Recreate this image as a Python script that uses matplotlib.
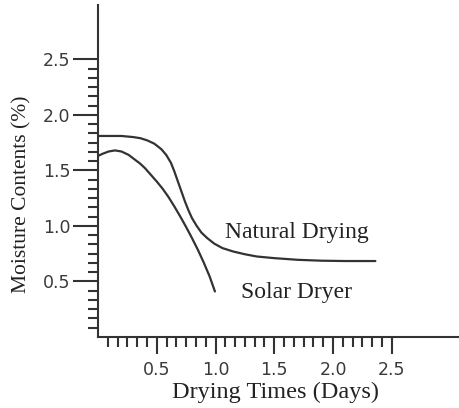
import numpy as np
import matplotlib
matplotlib.use('Agg')
from matplotlib import pyplot as plt
from matplotlib.ticker import FixedLocator

# curvas de umidade lidas em dias x umidade (%)
dias_natural = [0.0, 0.1, 0.2, 0.3, 0.36, 0.42, 0.48, 0.54, 0.58, 0.62, 0.65, 0.68,
                0.71, 0.74, 0.77, 0.80, 0.84, 0.88, 0.93, 0.99, 1.06, 1.15, 1.25,
                1.35, 1.5, 1.7, 1.9, 2.1, 2.36]
umid_natural = [1.81, 1.81, 1.81, 1.80, 1.79, 1.77, 1.74, 1.69, 1.64, 1.57, 1.49, 1.40,
                1.31, 1.22, 1.14, 1.07, 1.00, 0.94, 0.89, 0.84, 0.80, 0.77, 0.745,
                0.725, 0.71, 0.695, 0.687, 0.684, 0.684]

dias_solar = [0.0, 0.04, 0.09, 0.145, 0.2, 0.26, 0.31, 0.36, 0.4, 0.45, 0.5, 0.55,
              0.6, 0.65, 0.7, 0.75, 0.8, 0.85, 0.9, 0.95, 0.995]
umid_solar = [1.63, 1.65, 1.67, 1.68, 1.67, 1.64, 1.60, 1.56, 1.52, 1.46, 1.40, 1.335,
              1.26, 1.175, 1.085, 0.99, 0.89, 0.785, 0.67, 0.545, 0.41]

ticks_x = [0.5, 1.0, 1.5, 2.0, 2.5]
ticks_y = [0.5, 1.0, 1.5, 2.0, 2.5]
rotulo_x = 'Drying Times (Days)'
rotulo_y = 'Moisture Contents (%)'

cor_linha = '#333333'
cor_texto = '#3a3a3a'
serif = ['Liberation Serif', 'DejaVu Serif']

fig = plt.figure(figsize=(4.6, 4.08), dpi=100)
ax = fig.add_axes([0.213, 0.174, 0.787, 0.814])

ax.plot(dias_natural, umid_natural, color=cor_linha, lw=1.6,
        solid_capstyle='round', solid_joinstyle='round')
ax.plot(dias_solar, umid_solar, color=cor_linha, lw=1.6,
        solid_capstyle='round', solid_joinstyle='round')

ax.set_xlim(0, 3.08)
ax.set_ylim(0, 2.99)

# so eixos esquerdo e inferior
for lado in ['top', 'right']:
    ax.spines[lado].set_visible(False)
for lado in ['left', 'bottom']:
    ax.spines[lado].set_color(cor_linha)
    ax.spines[lado].set_linewidth(1.5)

ax.xaxis.set_major_locator(FixedLocator(ticks_x))
ax.yaxis.set_major_locator(FixedLocator(ticks_y))
minor = [i / 12 for i in range(1, 31)]
ax.xaxis.set_minor_locator(FixedLocator([m for m in minor if m not in ticks_x]))
ax.yaxis.set_minor_locator(FixedLocator([m for m in minor if m not in ticks_y]))

ax.tick_params(axis='both', which='major', direction='out', color=cor_linha,
               width=1.5, labelsize=12.5, labelcolor=cor_texto)
ax.tick_params(axis='y', which='major', length=18, pad=2)
ax.tick_params(axis='x', which='major', length=12, pad=5)
ax.tick_params(axis='both', which='minor', direction='out', color=cor_linha,
               width=1.5, length=7)
ax.xaxis.set_major_formatter(plt.FormatStrFormatter('%.1f'))
ax.yaxis.set_major_formatter(plt.FormatStrFormatter('%.1f'))

ax.set_xlabel(rotulo_x, family=serif, fontsize=17.5, color='#222222')
ax.set_ylabel(rotulo_y, family=serif, fontsize=15.5, color='#222222')
ax.xaxis.set_label_coords(0.489, -0.135)
ax.yaxis.set_label_coords(-0.185, 0.43)

ax.text(1.08, 0.89, 'Natural Drying', family=serif, fontsize=17, color='#222222')
ax.text(1.22, 0.35, 'Solar Dryer', family=serif, fontsize=17, color='#222222')

plt.savefig('out.png', dpi=100)
